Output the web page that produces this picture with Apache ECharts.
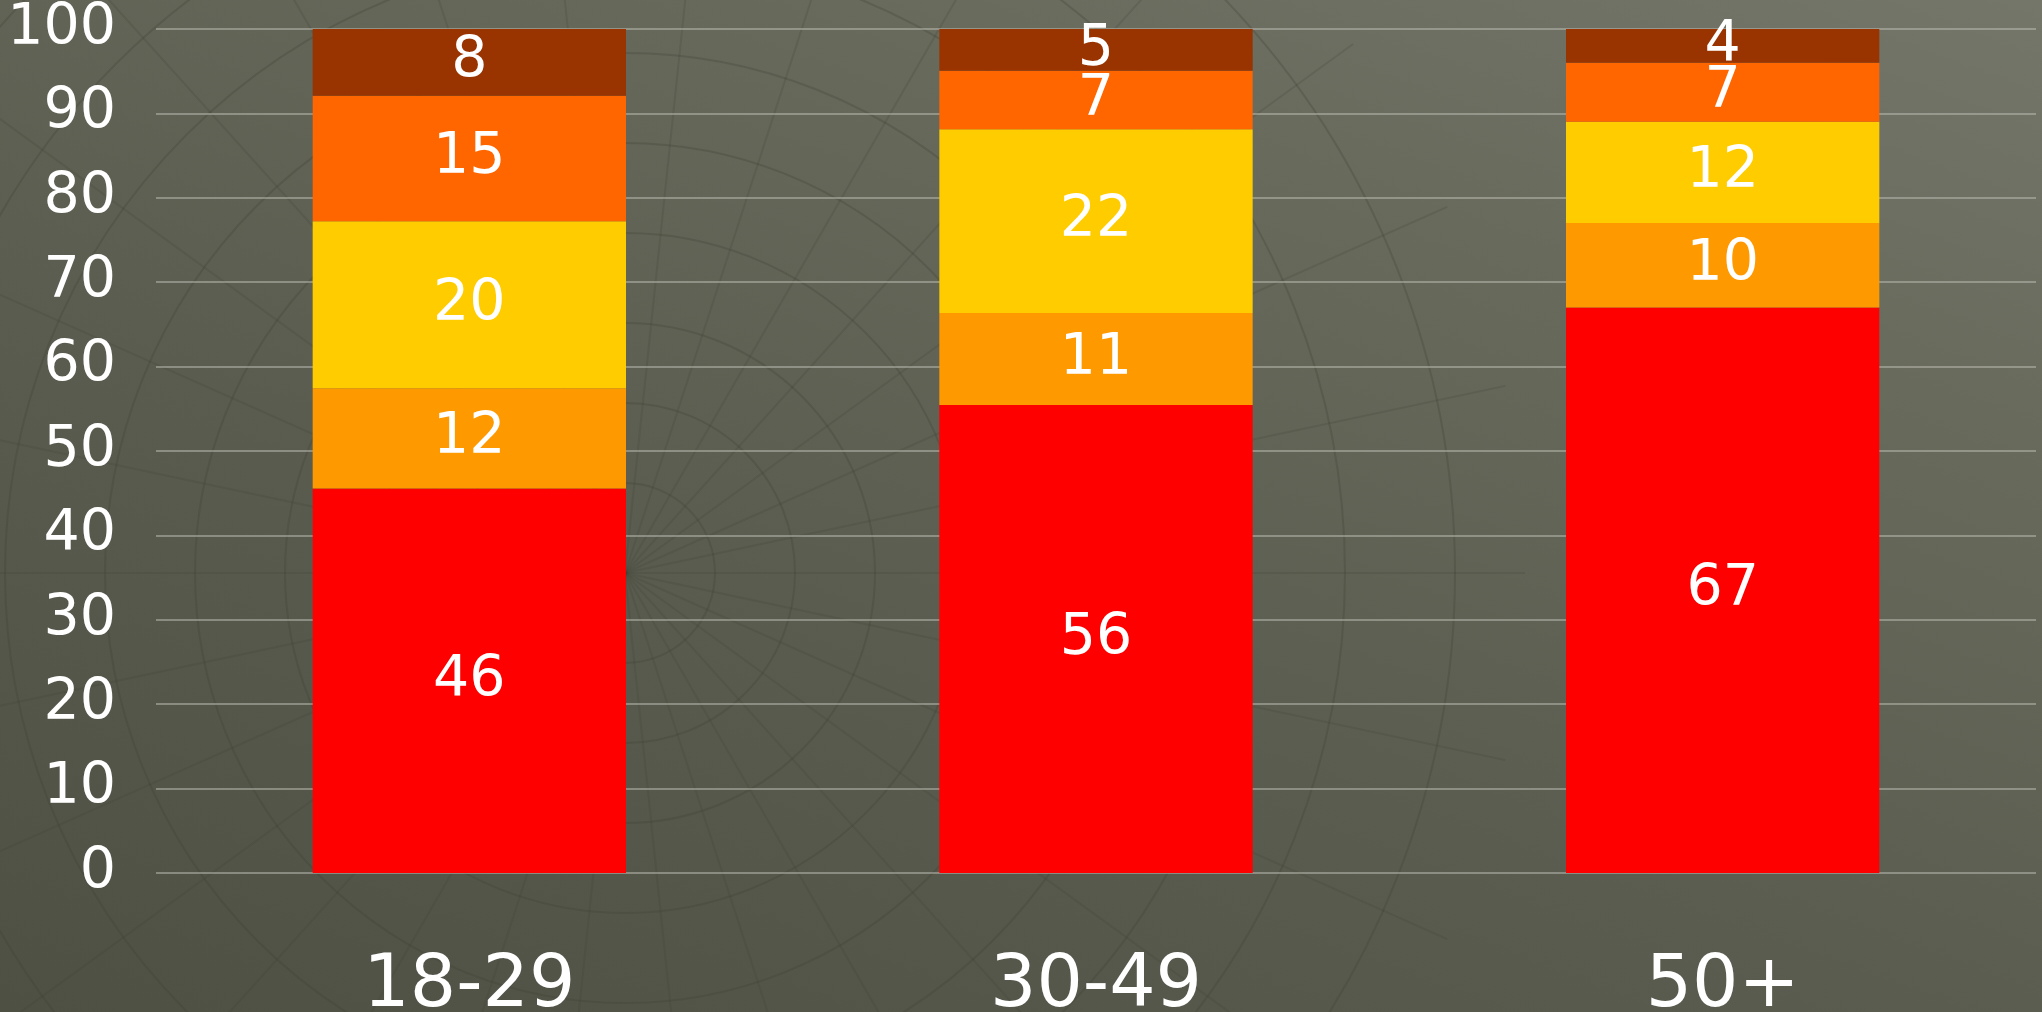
<!DOCTYPE html>
<html>
<head>
<meta charset="utf-8">
<title>Age groups</title>
<script src="https://cdn.jsdelivr.net/npm/echarts@6/dist/echarts.min.js"></script>
<style>
    html, body { margin: 0; padding: 0; }
    #chart {
        width: 2042px;
        height: 1012px;
        background: linear-gradient(20deg, #4e5044 0%, #5a5c4f 40%, #686a5c 75%, #74766a 100%);
    }
</style>
</head>
<body>
<div id="chart"></div>
<script>
    // categories and segment values (bottom to top)
    var categories = ['18-29', '30-49', '50+'];
    var seg1 = [46, 56, 67];   // red
    var seg2 = [12, 11, 10];   // amber
    var seg3 = [20, 22, 12];   // yellow
    var seg4 = [15, 7, 7];     // orange
    var seg5 = [8, 5, 4];      // brown
    var yTicks = [0, 10, 20, 30, 40, 50, 60, 70, 80, 90, 100];

    var segments = [seg1, seg2, seg3, seg4, seg5];
    var colors = ['#ff0000', '#ff9900', '#ffcc00', '#ff6600', '#993300'];

    // 100% stacked: each column is scaled to its own total
    var totals = categories.map(function (c, i) {
        return segments.reduce(function (s, arr) { return s + arr[i]; }, 0);
    });

    var font = 'DejaVu Sans, Verdana, sans-serif';

    // faint polar texture in the background
    var deco = [];
    var cx = 625, cy = 573;
    [90, 170, 250, 340, 430, 520, 620, 720, 830].forEach(function (r) {
        deco.push({
            type: 'circle', silent: true, z: -10,
            shape: { cx: cx, cy: cy, r: r },
            style: { fill: 'none', stroke: 'rgba(60,64,52,0.28)', lineWidth: 2 }
        });
    });
    for (var a = 0; a < 360; a += 12) {
        var rad = a * Math.PI / 180;
        deco.push({
            type: 'line', silent: true, z: -10,
            shape: { x1: cx, y1: cy, x2: cx + Math.cos(rad) * 900, y2: cy + Math.sin(rad) * 900 },
            style: { stroke: 'rgba(60,64,52,0.2)', lineWidth: 2 }
        });
    }

    var chart = echarts.init(document.getElementById('chart'));
    var options = {
        backgroundColor: 'transparent',
        animation: false,
        graphic: deco,
        grid: {
            left: 156,
            right: 6,
            top: 29,
            bottom: 139,
            outerBoundsMode: 'none',
            containLabel: false
        },
        xAxis: {
            type: 'category',
            data: categories,
            axisLine: { show: false },
            axisTick: { show: false },
            axisLabel: {
                color: '#ffffff',
                fontSize: 73,
                fontFamily: font,
                margin: 78
            }
        },
        yAxis: {
            type: 'value',
            min: yTicks[0],
            max: yTicks[yTicks.length - 1],
            interval: 10,
            axisLine: { show: false },
            axisTick: { show: false },
            splitLine: { lineStyle: { color: 'rgba(190,190,180,0.7)', width: 1.5 } },
            axisLabel: {
                color: '#ffffff',
                fontSize: 57,
                fontFamily: font,
                margin: 40
            }
        },
        series: segments.map(function (arr, k) {
            return {
                type: 'bar',
                stack: 'total',
                barWidth: '50%',
                itemStyle: { color: colors[k] },
                label: {
                    show: true,
                    position: 'inside',
                    color: '#ffffff',
                    fontSize: 57,
                    fontFamily: font,
                    formatter: function (p) { return p.data.raw; }
                },
                data: arr.map(function (v, i) {
                    return { value: v / totals[i] * 100, raw: v };
                })
            };
        })
    };
    chart.setOption(options);
</script>
</body>
</html>
